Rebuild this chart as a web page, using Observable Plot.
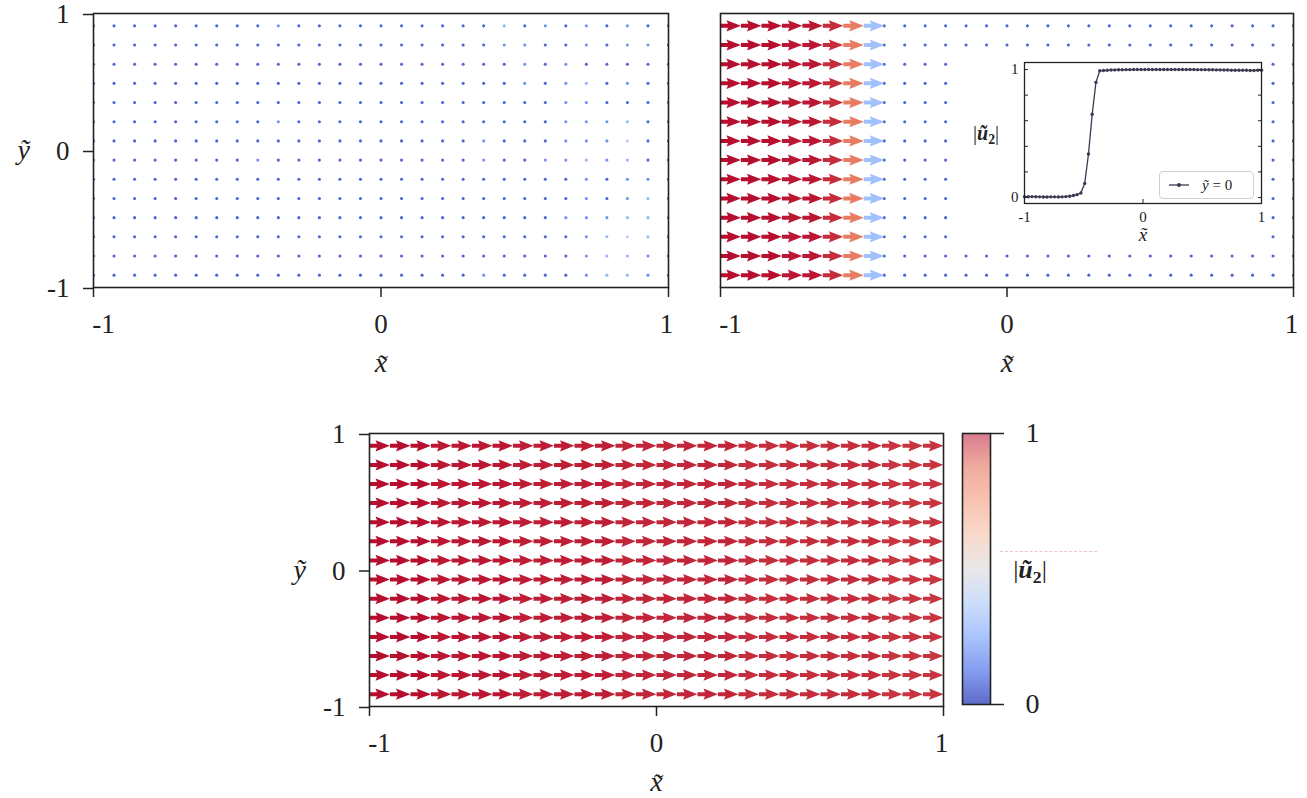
<!DOCTYPE html>
<html>
<head>
<meta charset="utf-8">
<script src="https://cdn.jsdelivr.net/npm/d3@7"></script>
<script src="https://cdn.jsdelivr.net/npm/@observablehq/plot@0.6"></script>
<style>
  html, body { margin: 0; padding: 0; background: #fff; }
  #root { position: relative; width: 1307px; height: 798px; overflow: hidden; font-family: "Liberation Serif", "DejaVu Serif", serif; color: #222; }
  #root > .pane { position: absolute; line-height: 0; }
  .legend { position: absolute; left: 1159px; top: 171px; width: 95px; height: 28px; box-sizing: border-box;
            border: 1px solid #d0d0d0; border-radius: 4px; background: rgba(255,255,255,0.9);
            font-size: 15px; line-height: 26px; color: #222; }
  .legend svg { position: absolute; left: 8px; top: 8px; }
  .legend span { position: absolute; left: 42px; top: 0; white-space: nowrap; }
  .dash { position: absolute; left: 1000px; top: 551px; width: 97px; height: 0; border-top: 1px dashed rgba(215,120,140,0.45); }
</style>
</head>
<body>
<div id="root"></div>
<script>
// ---------------- data ----------------
const gridX = [-1, -0.9286, -0.8571, -0.7857, -0.7143, -0.6429, -0.5714, -0.5, -0.4286, -0.3571,
  -0.2857, -0.2143, -0.1429, -0.0714, 0, 0.0714, 0.1429, 0.2143, 0.2857, 0.3571,
  0.4286, 0.5, 0.5714, 0.6429, 0.7143, 0.7857, 0.8571, 0.9286, 1];
const gridY = [0.91, 0.77, 0.63, 0.49, 0.35, 0.21, 0.07, -0.07, -0.21, -0.35, -0.49, -0.63, -0.77, -0.91];

// magnitude shades of the near-zero field (top-left), read per dot: 0 dark ... 3 very light
const shadeValue = [0.06, 0.17, 0.27, 0.38];
const panelALevels = [
  [0,0,0,0,0,0,0,0,0,1,0,0,0,0, 0,0,0,0,0,0,2,0,1,0,1,0,1,0,0],
  [0,0,0,0,0,0,0,0,0,0,0,0,0,0, 0,0,0,0,0,0,1,1,0,0,1,0,1,1,0],
  [0,0,0,0,0,0,0,0,0,0,0,0,0,0, 0,0,0,0,0,0,0,1,0,1,0,0,0,0,0],
  [0,0,0,0,0,0,0,0,0,0,0,0,0,0, 0,0,0,0,0,0,0,1,0,1,2,0,1,0,0],
  [0,0,0,0,0,0,0,0,0,0,0,0,0,0, 0,0,0,0,0,0,0,0,0,1,1,0,0,0,0],
  [0,0,0,0,0,0,0,0,0,1,0,0,0,0, 0,0,0,0,0,0,0,0,0,1,1,1,2,0,0],
  [0,0,0,0,0,0,0,0,0,0,0,0,0,0, 0,0,0,0,0,1,0,0,0,1,1,1,3,0,0],
  [0,0,0,0,0,0,0,0,1,0,0,0,0,0, 0,0,0,0,0,1,0,0,1,1,2,1,2,0,0],
  [0,0,0,0,0,0,0,0,0,0,0,0,0,0, 0,0,0,0,0,0,0,0,0,0,1,0,1,1,0],
  [0,0,0,0,0,0,0,0,0,0,0,0,0,0, 0,0,0,0,0,0,0,0,0,0,1,0,1,2,0],
  [0,0,0,0,0,0,0,0,0,0,0,0,0,0, 0,0,0,0,0,0,0,0,0,1,1,1,2,2,0],
  [0,0,0,0,0,0,0,0,0,0,0,0,0,0, 0,0,0,0,0,0,0,0,0,0,1,2,3,2,0],
  [0,0,0,0,0,0,0,0,0,0,0,0,0,0, 0,0,0,0,0,0,0,0,0,0,1,2,2,1,0],
  [0,0,0,0,0,0,0,0,0,0,0,0,0,0, 0,0,0,0,0,1,0,0,0,0,1,2,2,1,0]
];

// top-right: arrow columns (left part) and the near-zero remainder
const panelBArrowValues = [1.0, 1.0, 1.0, 0.99, 0.99, 0.96, 0.84, 0.30];
const panelBDotValue = 0.06;

// bottom: colour value per column
const panelCValues = [1.0, 1.0, 1.0, 0.99, 0.99, 0.99, 0.99, 0.98, 0.98, 0.98, 0.98, 0.98, 0.97, 0.97,
  0.97, 0.97, 0.97, 0.97, 0.96, 0.96, 0.96, 0.96, 0.96, 0.96, 0.96, 0.95, 0.95, 0.95, 0.95];

// inset profile |u2| at y = 0
const insetX = [-1.000, -0.968, -0.937, -0.905, -0.873, -0.841, -0.810, -0.778, -0.746, -0.714,
  -0.683, -0.651, -0.619, -0.587, -0.556, -0.524, -0.492, -0.460, -0.429, -0.397,
  -0.365, -0.333, -0.302, -0.270, -0.238, -0.206, -0.175, -0.143, -0.111, -0.079,
  -0.048, -0.016, 0.016, 0.048, 0.079, 0.111, 0.143, 0.175, 0.206, 0.238,
  0.270, 0.302, 0.333, 0.365, 0.397, 0.429, 0.460, 0.492, 0.524, 0.556,
  0.587, 0.619, 0.651, 0.683, 0.714, 0.746, 0.778, 0.810, 0.841, 0.873,
  0.905, 0.937, 0.968, 1.000];
const insetU = [0.006, 0.006, 0.007, 0.006, 0.005, 0.004, 0.004, 0.005, 0.005, 0.004,
  0.005, 0.007, 0.010, 0.016, 0.022, 0.035, 0.11, 0.34, 0.65, 0.90,
  0.99, 0.992, 0.994, 0.996, 0.997, 0.998, 0.998, 0.999, 0.999, 1.0,
  1.0, 1.0, 1.0, 1.0, 1.0, 1.0, 1.0, 1.0, 1.0, 1.0,
  1.0, 1.0, 1.0, 1.0, 1.0, 1.0, 0.999, 0.999, 0.999, 0.998,
  0.998, 0.997, 0.997, 0.996, 0.996, 0.995, 0.995, 0.994, 0.994, 0.994,
  0.993, 0.993, 0.994, 0.994];
const insetYTicks = [0, 0.2, 0.4, 0.6, 0.8, 1];
const insetYLabels = [0, 1];

const axisTicks = [-1, 0, 1];
const axisTickLabels = ["-1", "0", "1"];
const colorbarTicks = [0, 1];
const colorbarTickLabels = ["0", "1"];

const coolwarmStops = [0, 0.125, 0.25, 0.375, 0.5, 0.625, 0.75, 0.875, 1];
const coolwarmColors = ["#3b4cc0", "#6282ea", "#8db0fe", "#b8d0f9", "#dddcdc", "#f5c4ac", "#f49a7b", "#e26952", "#b40426"];

// ---------------- styling ----------------
const FONT = '"Liberation Serif", "DejaVu Serif", serif';
const INK = "#222222";
const TICK_FS = 27;
const xTickShift = [10, 0, -2];
const colorOpts = {type: "linear", domain: coolwarmStops, range: coolwarmColors, interpolate: "rgb"};

const root = document.getElementById("root");
function place(node, left, top) {
  const d = document.createElement("div");
  d.className = "pane";
  d.style.left = left + "px";
  d.style.top = top + "px";
  d.appendChild(node);
  root.appendChild(d);
  return node;
}

// quiver arrow (matplotlib-like, with a slight swallow-tail head), drawn pointing "up"
const arrowShape = {
  draw(ctx, l) {
    const w = 2.0, hw = 5.6, hl = 14.5, ha = 13;
    ctx.moveTo(-w, 0);
    ctx.lineTo(-w, -(l - ha));
    ctx.lineTo(-hw, -(l - hl));
    ctx.lineTo(0, -l);
    ctx.lineTo(hw, -(l - hl));
    ctx.lineTo(w, -(l - ha));
    ctx.lineTo(w, 0);
    ctx.closePath();
  }
};

function xAxisMarks(pad) {
  return [
    Plot.axisX({ticks: axisTicks, tickSize: 10, strokeWidth: 1.5, stroke: INK, fill: "none", label: null}),
    ...axisTicks.map((t, i) => Plot.axisX([t], {
      tickSize: 0, tickPadding: pad, dx: xTickShift[i], fontSize: TICK_FS, fill: INK,
      tickFormat: () => axisTickLabels[i], label: null
    }))
  ];
}
function yAxisMarks() {
  return [
    Plot.axisY({ticks: axisTicks, tickSize: 10, tickPadding: 14, strokeWidth: 1.5, stroke: INK, fill: INK,
      fontSize: TICK_FS, dy: 1, tickFormat: (d) => axisTickLabels[axisTicks.indexOf(d)], label: null})
  ];
}
function xLabel() {
  return Plot.text(["x\u0303"], {text: (d) => d, frameAnchor: "bottom", dy: 76, fontSize: 28, fontStyle: "italic", fill: INK, lineAnchor: "middle"});
}
function yLabel() {
  return Plot.text(["\u1ef9"], {text: (d) => d, frameAnchor: "left", dx: -76, fontSize: 28, fontStyle: "italic", fill: INK, lineAnchor: "middle"});
}
function baseStyle() {
  return {fontFamily: FONT, fontSize: TICK_FS + "px", color: INK, background: "transparent", overflow: "visible"};
}
function u2Label(svg, x, y, size) {
  const t = d3.select(svg).append("text")
    .attr("x", x).attr("y", y).attr("text-anchor", "middle")
    .attr("font-family", FONT).attr("font-size", size).attr("fill", INK);
  t.append("tspan").text("|");
  t.append("tspan").attr("font-weight", "bold").attr("font-style", "italic").text("\u0169");
  t.append("tspan").attr("font-weight", "bold").attr("font-size", size * 0.68).attr("dy", size * 0.18).text("2");
  t.append("tspan").attr("dy", -size * 0.18).text("|");
}

// ---------------- panel A (top-left) ----------------
const dataA = [];
gridY.forEach((y, r) => gridX.forEach((x, c) => dataA.push({x, y, v: shadeValue[panelALevels[r][c]]})));
{
  const svg = Plot.plot({
    width: 690, height: 390, marginLeft: 93, marginRight: 22, marginTop: 13, marginBottom: 103,
    x: {domain: [-1, 1]}, y: {domain: [-1, 1]},
    color: colorOpts, style: baseStyle(),
    marks: [
      Plot.dot(dataA, {x: "x", y: "y", r: 1.55, fill: "v", clip: true}),
      Plot.frame({stroke: INK, strokeWidth: 1.6}),
      ...xAxisMarks(26), ...yAxisMarks(), xLabel(), yLabel()
    ]
  });
  place(svg, 0, 0);
}

// ---------------- panel B (top-right) ----------------
const arrowsB = [], dotsB = [];
gridY.forEach((y) => gridX.forEach((x, c) => {
  if (c < panelBArrowValues.length) arrowsB.push({x, y, v: panelBArrowValues[c]});
  else dotsB.push({x, y, v: panelBDotValue});
}));
{
  const W = 617, ml = 30, mr = 14;
  const L = (W - ml - mr) * (gridX[1] - gridX[0]) / 2;
  const svg = Plot.plot({
    width: W, height: 390, marginLeft: ml, marginRight: mr, marginTop: 13, marginBottom: 103,
    x: {domain: [-1, 1]}, y: {domain: [-1, 1], axis: null},
    color: colorOpts, style: baseStyle(),
    marks: [
      Plot.dot(dotsB, {x: "x", y: "y", r: 1.55, fill: "v", clip: true}),
      Plot.vector(arrowsB, {x: "x", y: "y", rotate: 90, length: L, anchor: "start", shape: arrowShape,
        fill: "v", stroke: "none", fillOpacity: 0.96, clip: true}),
      Plot.frame({stroke: INK, strokeWidth: 1.6}),
      ...xAxisMarks(26), xLabel()
    ]
  });
  place(svg, 690, 0);
}

// ---------------- inset ----------------
const insetData = insetX.map((x, i) => ({x, u: insetU[i]}));
{
  const svg = Plot.plot({
    width: 310, height: 194, marginLeft: 66, marginRight: 7, marginTop: 10, marginBottom: 43,
    x: {domain: [-1, 1]}, y: {domain: [-0.047, 1.055]},
    style: {fontFamily: FONT, fontSize: "15px", color: INK, background: "#fff", overflow: "visible"},
    marks: [
      Plot.line(insetData, {x: "x", y: "u", stroke: "#3a3a52", strokeWidth: 1.3}),
      Plot.dot(insetData, {x: "x", y: "u", r: 1.7, fill: "#3a3a52"}),
      Plot.frame({stroke: INK, strokeWidth: 1.3}),
      Plot.axisY({ticks: insetYTicks, tickSize: -4, stroke: INK, fill: "none", label: null}),
      Plot.axisY({ticks: insetYTicks, anchor: "right", tickSize: -4, stroke: INK, fill: "none", label: null}),
      Plot.axisY({ticks: insetYLabels, tickSize: 0, tickPadding: 6, fontSize: 15, fill: INK, tickFormat: (d) => String(d), label: null}),
      Plot.axisX({ticks: axisTicks, tickSize: -4, stroke: INK, fill: "none", label: null}),
      Plot.axisX({ticks: axisTicks, tickSize: 0, tickPadding: 8, fontSize: 15, fill: INK, tickFormat: (d) => axisTickLabels[axisTicks.indexOf(d)], label: null}),
      Plot.text(["x\u0303"], {text: (d) => d, frameAnchor: "bottom", dy: 31, fontSize: 19, fontStyle: "italic", fill: INK, lineAnchor: "middle"})
    ]
  });
  u2Label(svg, 28, 88, 20);
  place(svg, 958, 52);
  const lg = document.createElement("div");
  lg.className = "legend";
  lg.innerHTML = '<svg width="26" height="10"><line x1="1" x2="21" y1="5" y2="5" stroke="#3a3a52" stroke-width="1.3"/><circle cx="11" cy="5" r="2" fill="#3a3a52"/></svg><span><i>\u1ef9</i> = 0</span>';
  root.appendChild(lg);
}

// ---------------- panel C (bottom) ----------------
const arrowsC = [];
gridY.forEach((y) => gridX.forEach((x, c) => arrowsC.push({x, y, v: panelCValues[c]})));
{
  const W = 710, ml = 119, mr = 17;
  const L = (W - ml - mr) * (gridX[1] - gridX[0]) / 2;
  const svg = Plot.plot({
    width: W, height: 398, marginLeft: ml, marginRight: mr, marginTop: 33, marginBottom: 92,
    x: {domain: [-1, 1]}, y: {domain: [-1, 1]},
    color: colorOpts, style: baseStyle(),
    marks: [
      Plot.vector(arrowsC, {x: "x", y: "y", rotate: 90, length: L, anchor: "start", shape: arrowShape,
        fill: "v", stroke: "none", fillOpacity: 0.96, clip: true}),
      Plot.frame({stroke: INK, strokeWidth: 1.6}),
      ...xAxisMarks(26), ...yAxisMarks(), xLabel(), yLabel()
    ]
  });
  place(svg, 250, 400);
}

// ---------------- colorbar ----------------
{
  const step = 0.005;
  const ramp = d3.range(0, 1, step);
  const svg = Plot.plot({
    width: 200, height: 300, marginLeft: 22, marginRight: 150, marginTop: 13, marginBottom: 16,
    x: {domain: [0, 1], axis: null}, y: {domain: [0, 1]},
    color: colorOpts, style: baseStyle(),
    marks: [
      Plot.rect(ramp, {x1: 0, x2: 1, y1: (d) => d, y2: (d) => d + step, fill: (d) => d + step / 2,
        fillOpacity: (d) => 0.82 - 0.3 * d, shapeRendering: "crispEdges"}),
      Plot.frame({stroke: INK, strokeWidth: 1.6}),
      Plot.axisY({anchor: "right", ticks: colorbarTicks, tickSize: 13, tickPadding: 22, strokeWidth: 1.5,
        stroke: INK, fill: INK, fontSize: 28, tickFormat: (d) => colorbarTickLabels[colorbarTicks.indexOf(d)], label: null})
    ]
  });
  u2Label(svg, 90, 158, 26);
  place(svg, 940, 420);
  const dash = document.createElement("div");
  dash.className = "dash";
  root.appendChild(dash);
}
</script>
</body>
</html>
